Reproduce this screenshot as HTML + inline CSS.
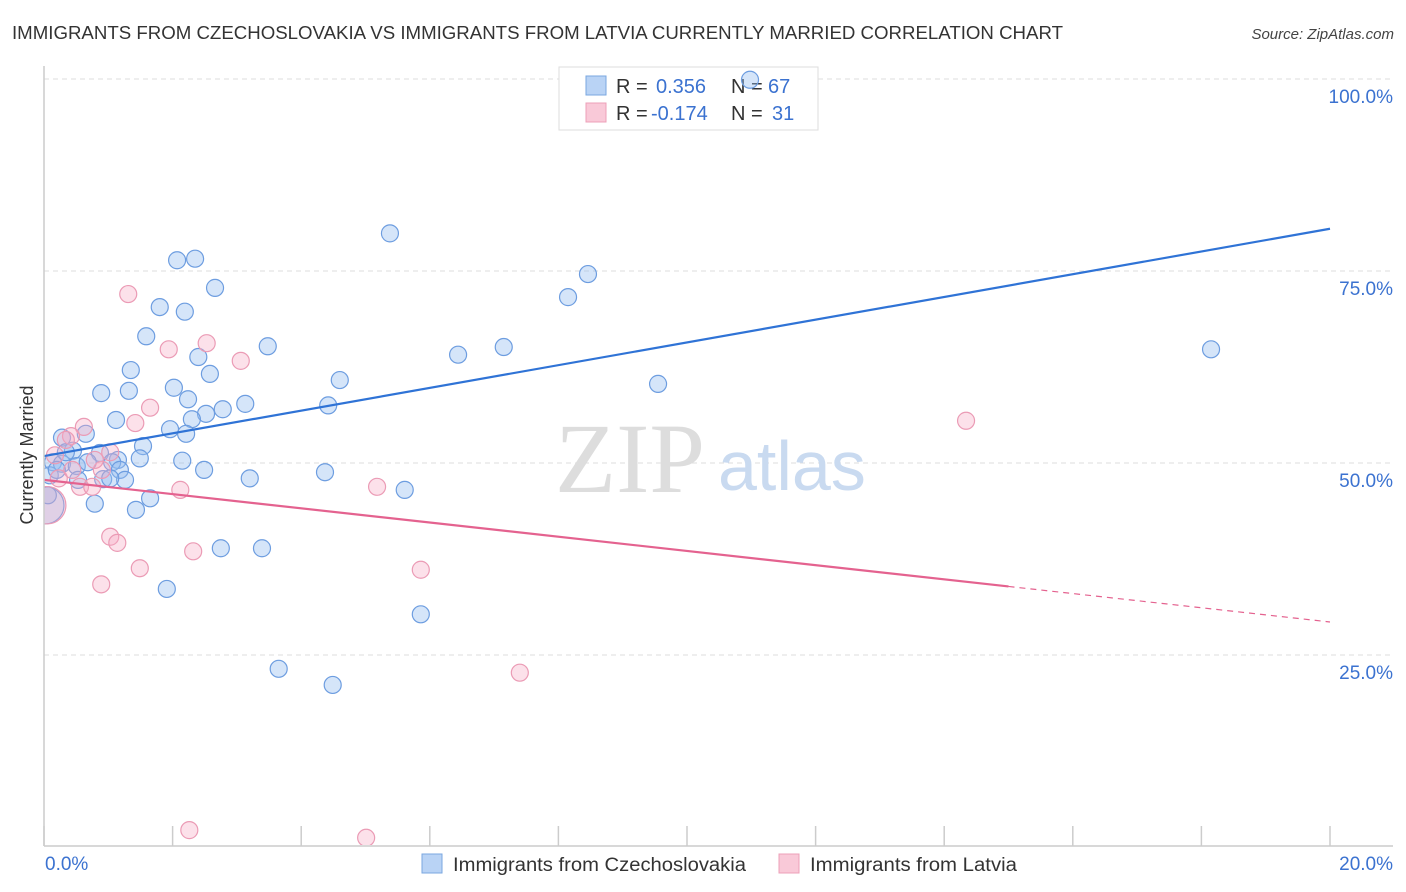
<!DOCTYPE html>
<html><head><meta charset="utf-8">
<style>
body{margin:0;background:#fff;font-family:"Liberation Sans",sans-serif;}
svg{display:block}
</style></head>
<body>
<svg id="chart" width="1406" height="892">
<text x="12" y="39" font-size="18" fill="#333" textLength="1051" lengthAdjust="spacingAndGlyphs">IMMIGRANTS FROM CZECHOSLOVAKIA VS IMMIGRANTS FROM LATVIA CURRENTLY MARRIED CORRELATION CHART</text>
<text x="1394" y="39" font-size="15" fill="#444" font-style="italic" text-anchor="end">Source: ZipAtlas.com</text>
<text transform="translate(33,455) rotate(-90)" font-size="18" fill="#333" text-anchor="middle">Currently Married</text>
<g id="grid"></g>
<text x="555" y="492" font-size="100" fill="#ddd" font-family="Liberation Serif,serif">ZIP</text>
<text x="718" y="490" font-size="70" fill="#c9daf0">atlas</text>
<g>
<rect x="559" y="67" width="259" height="63" fill="#fff" stroke="#ddd"/>
<rect x="586" y="76" width="20" height="19" fill="#b9d3f5" stroke="#7aa7e0"/>
<rect x="586" y="103" width="20" height="19" fill="#f9c9d8" stroke="#eda0b8"/>
<text x="616" y="93" font-size="20" fill="#333">R = </text><text x="656" y="93" font-size="20" fill="#3b72d0">0.356</text>
<text x="731" y="93" font-size="20" fill="#333">N = </text><text x="768" y="93" font-size="20" fill="#3b72d0">67</text>
<text x="616" y="120" font-size="20" fill="#333">R = </text><text x="651" y="120" font-size="20" fill="#3b72d0">-0.174</text>
<text x="731" y="120" font-size="20" fill="#333">N = </text><text x="772" y="120" font-size="20" fill="#3b72d0">31</text>
</g>
<defs><clipPath id="clip"><rect x="44" y="60" width="1360" height="785"/></clipPath></defs>
<g id="marks" clip-path="url(#clip)"></g>
<g id="axes"></g>
<g>
<rect x="422" y="854" width="20" height="19" fill="#b9d3f5" stroke="#7aa7e0"/>
<text x="453" y="871" font-size="19" fill="#333" textLength="293" lengthAdjust="spacingAndGlyphs">Immigrants from Czechoslovakia</text>
<rect x="779" y="854" width="20" height="19" fill="#f9c9d8" stroke="#eda0b8"/>
<text x="810" y="871" font-size="19" fill="#333" textLength="207" lengthAdjust="spacingAndGlyphs">Immigrants from Latvia</text>
</g>
</svg>
<script>
const yTicks=[25,50,75,100];
const yTickLabels=["25.0%","50.0%","75.0%","100.0%"];
const xTicks=[0,2,4,6,8,10,12,14,16,18,20];
const blueX=[10.98,5.38,2.07,2.35,2.66,8.46,8.15,1.80,2.19,1.59,3.48,7.15,6.44,2.40,18.15,1.35,2.58,4.60,9.55,0.89,1.32,2.02,2.24,3.13,4.42,2.78,2.52,2.30,1.12,1.96,2.21,0.65,0.28,1.54,0.45,0.87,1.49,1.15,2.15,0.14,0.28,0.51,1.06,2.49,4.37,0.09,3.20,1.18,1.26,0.53,0.92,5.61,1.65,0.79,1.43,0.02,2.75,3.39,1.91,5.86,3.65,4.49,0.34,0.68,1.03,0.20,0.06];
const blueY=[99.9,79.9,76.4,76.6,72.8,74.6,71.6,70.3,69.7,66.5,65.2,65.1,64.1,63.8,64.8,62.1,61.6,60.8,60.3,59.1,59.4,59.8,58.3,57.7,57.5,57.0,56.4,55.7,55.6,54.4,53.8,53.8,53.3,52.2,51.6,51.3,50.6,50.4,50.3,50.1,49.9,49.6,50.1,49.1,48.8,48.4,48.0,49.1,47.8,47.8,47.9,46.5,45.4,44.7,43.9,44.5,38.9,38.9,33.6,30.3,23.2,21.1,51.4,50.1,48.0,49.1,45.8];
const blueSize=[1,1,1,1,1,1,1,1,1,1,1,1,1,1,1,1,1,1,1,1,1,1,1,1,1,1,1,1,1,1,1,1,1,1,1,1,1,1,1,1,1,1,1,1,1,1,1,1,1,1,1,1,1,1,1,2.2,1,1,1,1,1,1,1,1,1,1,1];
const pinkX=[1.31,1.94,2.53,3.06,1.65,1.42,14.34,0.62,0.42,0.34,1.03,0.17,0.23,0.90,0.56,0.75,2.12,5.18,1.03,1.14,2.32,1.49,5.86,0.89,7.40,2.26,5.01,0.05,0.44,0.79];
const pinkY=[72.0,64.8,65.6,63.3,57.2,55.2,55.5,54.7,53.5,53.0,51.4,51.0,48.0,49.1,46.9,46.9,46.5,46.9,40.4,39.6,38.5,36.3,36.1,34.2,22.7,2.2,1.2,44.5,49.1,50.4];
const pinkSize=[1,1,1,1,1,1,1,1,1,1,1,1,1,1,1,1,1,1,1,1,1,1,1,1,1,1,1,2.2,1,1];
const blueTrend=[50.9,80.5];
const pinkTrend=[47.8,29.3];
const pinkSolidEnd=15.0;

const X=v=>44+v/20*1286;
const Y=v=>847-v/100*768;
const NS="http://www.w3.org/2000/svg";
function mk(tag,attrs,parent){const e=document.createElementNS(NS,tag);for(const k in attrs)e.setAttribute(k,attrs[k]);parent.appendChild(e);return e;}
const grid=document.getElementById('grid'),marks=document.getElementById('marks'),axes=document.getElementById('axes');
yTicks.forEach((t,i)=>{
  const l=mk('line',{x1:44,x2:1393,y1:Y(t),y2:Y(t),stroke:'#ddd','stroke-dasharray':'5,4'},grid);
  
  
  const tx=mk('text',{x:1393,y:Y(t)+24,'font-size':19,fill:'#3b72d0','text-anchor':'end'},axes);
  tx.textContent=yTickLabels[i];
  
  
});
const ax=mk('line',{x1:44,x2:1393,y1:846,y2:846,stroke:'#ccc','stroke-width':1.5},axes);


const ay=mk('line',{x1:44,x2:44,y1:66,y2:846,stroke:'#ccc','stroke-width':1.5},axes);


xTicks.forEach(t=>{
  const l=mk('line',{x1:X(t),x2:X(t),y1:826,y2:846,stroke:'#ccc','stroke-width':1.5},axes);
  
  
});
const xl0=mk('text',{x:45,y:870,'font-size':19,fill:'#3b72d0'},axes);xl0.textContent='0.0%';


const xl1=mk('text',{x:1393,y:870,'font-size':19,fill:'#3b72d0','text-anchor':'end'},axes);xl1.textContent='20.0%';


blueX.forEach((v,i)=>{
  const c=mk('circle',{cx:X(v),cy:Y(blueY[i]),r:8.5*blueSize[i],fill:'rgba(150,190,240,0.4)',stroke:'#6d9de0','stroke-width':1.2},marks);
  
  
});
pinkX.forEach((v,i)=>{
  const c=mk('circle',{cx:X(v),cy:Y(pinkY[i]),r:8.5*pinkSize[i],fill:'rgba(245,170,195,0.35)',stroke:'#eb9bb5','stroke-width':1.2},marks);
  
  
});
const bl=mk('line',{x1:X(0),y1:Y(blueTrend[0]),x2:X(20),y2:Y(blueTrend[1]),stroke:'#2f73d6','stroke-width':2.2},marks);


const pm=pinkTrend[0]+(pinkTrend[1]-pinkTrend[0])*pinkSolidEnd/20;
const pl=mk('line',{x1:X(0),y1:Y(pinkTrend[0]),x2:X(pinkSolidEnd),y2:Y(pm),stroke:'#e4628f','stroke-width':2.2},marks);


const pd=mk('line',{x1:X(pinkSolidEnd),y1:Y(pm),x2:X(20),y2:Y(pinkTrend[1]),stroke:'#e4628f','stroke-width':1.2,'stroke-dasharray':'6,5'},marks);


</script>
</body></html>
